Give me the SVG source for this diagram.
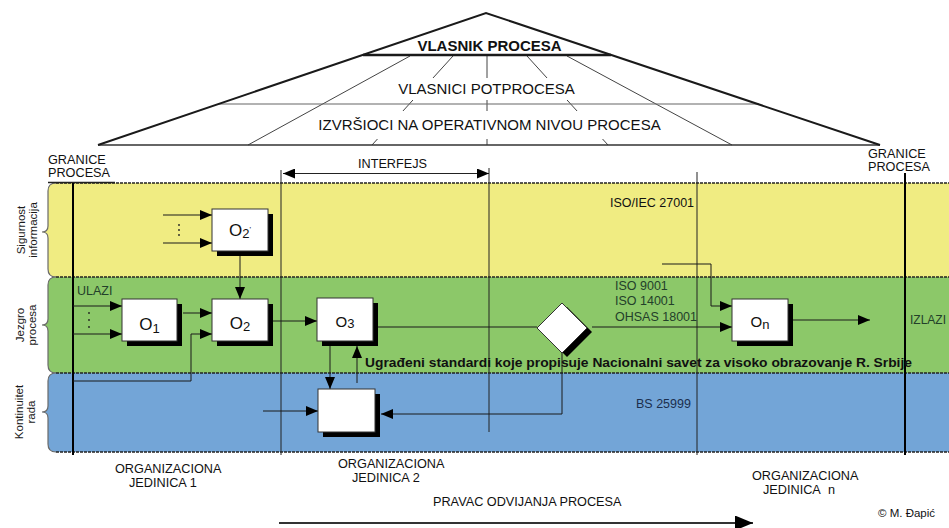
<svg xmlns="http://www.w3.org/2000/svg" width="949" height="528" viewBox="0 0 949 528">
  <defs>
    <marker id="arr" markerUnits="userSpaceOnUse" markerWidth="12" markerHeight="10" refX="12" refY="5" orient="auto-start-reverse">
      <path d="M0,0 L12,5 L0,10 z" fill="#000"/>
    </marker>
    <marker id="arrBig" markerUnits="userSpaceOnUse" markerWidth="18" markerHeight="15" refX="18" refY="7.5" orient="auto">
      <path d="M0,0 L18,7.5 L0,15 z" fill="#000"/>
    </marker>
  </defs>
  <style>
    .t { font-family: "Liberation Sans", Arial, sans-serif; fill: #111; }
    .lbl { font-size: 12.7px; }
    .std { font-size: 12.5px; }
    .side { font-size: 11.5px; fill: #1a1a1a; }
    .box { fill: #fff; stroke: #333; stroke-width: 1; }
    .shadow { fill: #000; }
    .conn { fill: none; stroke: #1a1a1a; stroke-width: 1; }
    .edge { fill: none; stroke: #222; stroke-width: 1.5; stroke-dasharray: 3 1; }
    .brace { fill: none; stroke: #6a6a6a; stroke-width: 1.2; }
    .fan { stroke: #444; stroke-width: 1; }
    .mask { fill: #fff; }
    .olbl { font-family: "Liberation Sans", Arial, sans-serif; fill: #111; text-anchor: middle; }
  </style>

  <!-- Pyramid of process ownership -->
  <g id="pyramid">
    <line class="fan" x1="410" y1="56" x2="248" y2="145"/>
    <line class="fan" x1="453" y1="56" x2="372" y2="145"/>
    <line class="fan" x1="487" y1="56" x2="487" y2="145"/>
    <line class="fan" x1="527" y1="56" x2="608" y2="145"/>
    <line class="fan" x1="567" y1="56" x2="732" y2="145"/>
    <line x1="218" y1="104" x2="759" y2="104" stroke="#666" stroke-width="1.2"/>
    <line x1="98" y1="145" x2="880" y2="145" stroke="#333" stroke-width="1.5"/>
    <rect class="mask" x="394" y="78" width="187" height="22"/>
    <rect class="mask" x="314" y="111" width="352" height="28"/>
    <path d="M98,145 L486,13 L880,145" fill="none" stroke="#1a1a1a" stroke-width="2"/>
    <line x1="363" y1="55" x2="611" y2="55" stroke="#1a1a1a" stroke-width="2.5"/>
    <text class="t" x="489.5" y="50.5" font-size="15" font-weight="bold" text-anchor="middle">VLASNIK PROCESA</text>
    <text class="t" x="486.5" y="94" font-size="15" text-anchor="middle">VLASNICI POTPROCESA</text>
    <text class="t" x="489.5" y="129.5" font-size="15" text-anchor="middle">IZVRŠIOCI NA OPERATIVNOM NIVOU PROCESA</text>
  </g>

  <!-- Swim lanes -->
  <g id="lane-security">
    <path d="M56,183 H949 V277 H56 Q48,277 48,269 V238 Q48,232 42,232 Q48,232 48,226 V191 Q48,183 56,183 Z" fill="#F0EC82"/>
    <path class="brace" d="M56,183 Q48,183 48,191 V226 Q48,232 42,232 Q48,232 48,238 V269 Q48,277 56,277"/>
    <text class="t side" transform="translate(25,230) rotate(-90)" text-anchor="middle"><tspan x="0" y="0">Sigurnost</tspan><tspan x="0" y="12">informacija</tspan></text>
    <text class="t std" x="610" y="207" fill="#222">ISO/IEC 27001</text>
  </g>
  <g id="lane-core">
    <path d="M56,277 H949 V373 H56 Q48,373 48,365 V331 Q48,325 42,325 Q48,325 48,319 V285 Q48,277 56,277 Z" fill="#8CC869"/>
    <path class="brace" d="M56,277 Q48,277 48,285 V319 Q48,325 42,325 Q48,325 48,331 V365 Q48,373 56,373"/>
    <text class="t side" transform="translate(24,325) rotate(-90)" text-anchor="middle"><tspan x="0" y="0">Jezgro</tspan><tspan x="0" y="12">procesa</tspan></text>
    <text class="t std" x="77" y="295" style="fill:#23402a">ULAZI</text>
    <text class="t std" x="615" y="290" style="fill:#23402a">ISO 9001</text>
    <text class="t std" x="615" y="305" style="fill:#23402a">ISO 14001</text>
    <text class="t std" x="615" y="321" style="fill:#23402a">OHSAS 18001</text>
    <text class="t" x="910" y="324" font-size="12" style="fill:#23402a">IZLAZI</text>
  </g>
  <g id="lane-continuity">
    <path d="M56,373 H949 V452 H56 Q48,452 48,444 V418 Q48,412 42,412 Q48,412 48,406 V381 Q48,373 56,373 Z" fill="#73A5D7"/>
    <path class="brace" d="M56,373 Q48,373 48,381 V406 Q48,412 42,412 Q48,412 48,418 V444 Q48,452 56,452"/>
    <text class="t side" transform="translate(23,412) rotate(-90)" text-anchor="middle"><tspan x="0" y="0">Kontinuitet</tspan><tspan x="0" y="12">rada</tspan></text>
    <text class="t std" x="636" y="408" style="fill:#1b2f4e">BS 25999</text>
  </g>

  <!-- Lane borders -->
  <g id="lane-borders">
    <line x1="48" y1="182.5" x2="115" y2="182.5" stroke="#222" stroke-width="1.5"/>
    <line class="edge" x1="56" y1="183" x2="949" y2="183"/>
    <line class="edge" x1="56" y1="277" x2="949" y2="277"/>
    <line class="edge" x1="56" y1="373" x2="949" y2="373"/>
    <line class="edge" x1="56" y1="452" x2="949" y2="452"/>
  </g>

  <!-- Process boundaries, unit dividers and interface -->
  <g id="boundaries">
    <line x1="73" y1="183" x2="73" y2="455" stroke="#000" stroke-width="2"/>
    <line x1="905" y1="173" x2="905" y2="455" stroke="#000" stroke-width="2"/>
    <line x1="281" y1="170" x2="281" y2="455" stroke="#222" stroke-width="1"/>
    <line x1="489" y1="168" x2="489" y2="432" stroke="#222" stroke-width="1"/>
    <line x1="697" y1="172" x2="697" y2="455" stroke="#222" stroke-width="1"/>
    <line x1="283" y1="173.5" x2="489" y2="173.5" stroke="#222" stroke-width="1" marker-start="url(#arr)" marker-end="url(#arr)"/>
    <text class="t lbl" x="392.5" y="168" text-anchor="middle">INTERFEJS</text>
    <text class="t lbl" x="48" y="164">GRANICE</text>
    <text class="t lbl" x="48" y="176.5">PROCESA</text>
    <text class="t lbl" x="868" y="158">GRANICE</text>
    <text class="t lbl" x="868" y="170.5">PROCESA</text>
  </g>

  <!-- Connectors -->
  <g id="connectors" class="conn">
    <line x1="163" y1="215" x2="212" y2="215" marker-end="url(#arr)"/>
    <line x1="163" y1="243" x2="212" y2="243" marker-end="url(#arr)"/>
    <line x1="240" y1="256" x2="240" y2="299" marker-end="url(#arr)"/>
    <line x1="73" y1="306" x2="122" y2="306" marker-end="url(#arr)"/>
    <line x1="73" y1="334" x2="122" y2="334" marker-end="url(#arr)"/>
    <line x1="183" y1="313" x2="212" y2="313" marker-end="url(#arr)"/>
    <path d="M73,381 H191 V334 H212" marker-end="url(#arr)"/>
    <line x1="273" y1="321" x2="317" y2="321" marker-end="url(#arr)"/>
    <line x1="330" y1="346" x2="330" y2="389" marker-end="url(#arr)"/>
    <line x1="357" y1="383" x2="357" y2="346" marker-end="url(#arr)"/>
    <line x1="263" y1="411" x2="318" y2="411" marker-end="url(#arr)"/>
    <line x1="378" y1="327" x2="537" y2="327"/>
    <path d="M562,353 V414 H381" marker-end="url(#arr)"/>
    <line x1="592" y1="327" x2="732" y2="327" marker-end="url(#arr)"/>
    <path d="M662,264 H711 V306 H732" marker-end="url(#arr)"/>
    <line x1="793" y1="320" x2="870" y2="320" marker-end="url(#arr)"/>
    <line x1="279" y1="523" x2="753" y2="523" stroke="#333" stroke-width="2" marker-end="url(#arrBig)"/>
  </g>

  <!-- Continuation dots between inputs -->
  <g id="dots" fill="#222">
    <circle cx="179" cy="225" r="0.9"/>
    <circle cx="179" cy="230" r="0.9"/>
    <circle cx="179" cy="235" r="0.9"/>
    <circle cx="89" cy="313" r="0.9"/>
    <circle cx="89" cy="320" r="0.9"/>
    <circle cx="89" cy="327" r="0.9"/>
  </g>

  <!-- Activities -->
  <g id="node-o2p">
    <rect class="shadow" x="217" y="214" width="56" height="42"/>
    <rect class="box" x="212" y="209" width="56" height="42"/>
    <text class="olbl" x="240" y="236" font-size="17">O<tspan font-size="13" dy="2">2</tspan><tspan font-size="8" dy="-6">'</tspan></text>
  </g>
  <g id="node-o1">
    <rect class="shadow" x="127" y="304" width="55" height="42"/>
    <rect class="box" x="122" y="299" width="55" height="42"/>
    <text class="olbl" x="149.5" y="330" font-size="17">O<tspan font-size="13" dy="3">1</tspan></text>
  </g>
  <g id="node-o2">
    <rect class="shadow" x="217" y="304" width="56" height="42"/>
    <rect class="box" x="212" y="299" width="56" height="42"/>
    <text class="olbl" x="240" y="329" font-size="17">O<tspan font-size="13" dy="2">2</tspan></text>
  </g>
  <g id="node-o3">
    <rect class="shadow" x="322" y="303" width="56" height="43"/>
    <rect class="box" x="317" y="298" width="56" height="43"/>
    <text class="olbl" x="345" y="327" font-size="15">O<tspan font-size="13" dy="1">3</tspan></text>
  </g>
  <g id="node-continuity">
    <rect class="shadow" x="323" y="394" width="57" height="43"/>
    <rect class="box" x="318" y="389" width="57" height="43"/>
  </g>
  <g id="node-decision">
    <path class="shadow" d="M567,307 L592,332 L567,357 L542,332 Z"/>
    <path class="box" d="M562,303 L587,328 L562,353 L537,328 Z"/>
  </g>
  <g id="node-on">
    <rect class="shadow" x="737" y="304" width="56" height="42"/>
    <rect class="box" x="732" y="299" width="56" height="42"/>
    <text class="olbl" x="760" y="327" font-size="15">O<tspan font-size="13" dy="2">n</tspan></text>
  </g>

  <!-- Embedded standards note -->
  <text class="t" x="365" y="367" font-size="12.8" font-weight="bold" textLength="547" lengthAdjust="spacingAndGlyphs" fill="#111">Ugrađeni standardi koje propisuje Nacionalni savet za visoko obrazovanje R. Srbije</text>

  <!-- Organisational units and direction -->
  <g id="units">
    <text class="t lbl" x="115" y="473">ORGANIZACIONA</text>
    <text class="t lbl" x="129" y="487">JEDINICA 1</text>
    <text class="t lbl" x="338" y="468">ORGANIZACIONA</text>
    <text class="t lbl" x="352" y="482">JEDINICA 2</text>
    <text class="t lbl" x="752" y="480">ORGANIZACIONA</text>
    <text class="t lbl" x="763" y="494">JEDINICA</text>
    <text class="t lbl" x="828" y="494">n</text>
    <text class="t lbl" x="433" y="505.5">PRAVAC ODVIJANJA PROCESA</text>
    <text class="t" x="878" y="517" font-size="11.5">© M. Đapić</text>
  </g>
</svg>
